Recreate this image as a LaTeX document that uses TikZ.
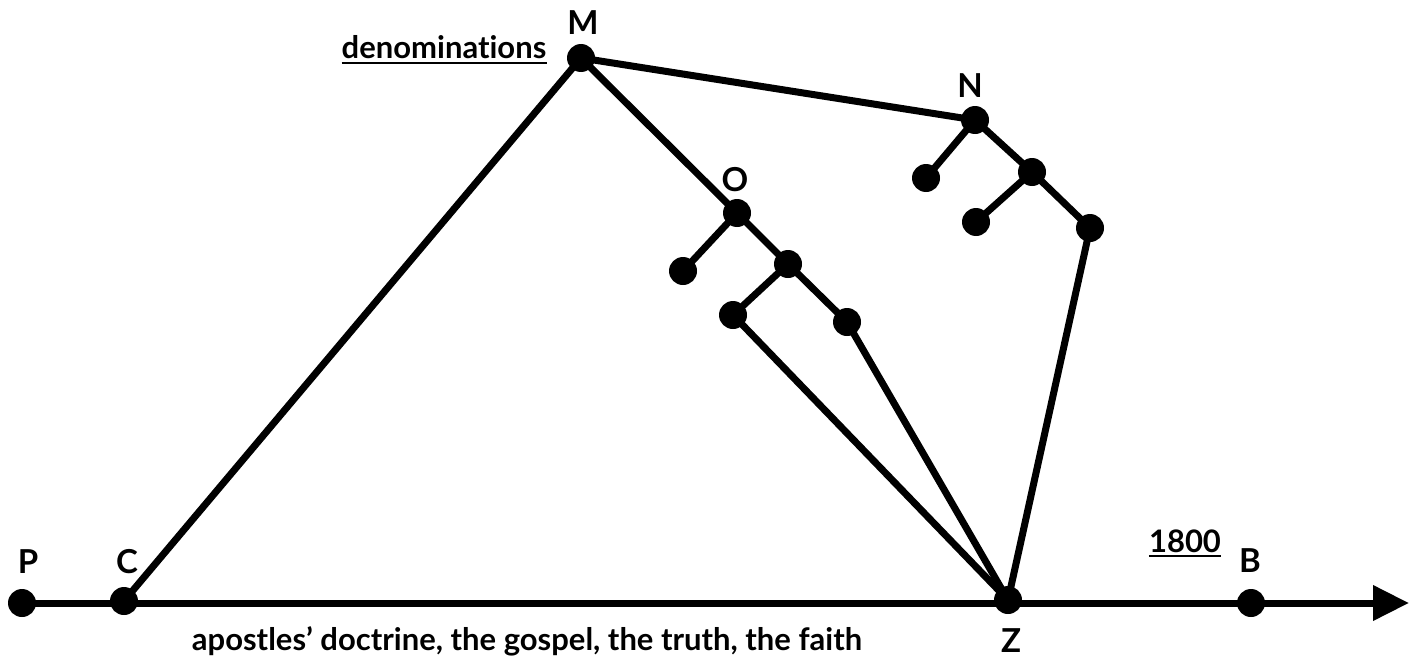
\documentclass[tikz,border=0pt]{standalone}
\usepackage{fontspec}
\setmainfont{Lato}[Ligatures={NoCommon}]
\usetikzlibrary{arrows.meta,calc}
\tikzset{
  dot/.style={circle,fill=black,minimum size=28pt,inner sep=0pt},
  edge/.style={line width=7pt},
  lbl/.style={font=\fontsize{33}{35}\selectfont\bfseries,inner sep=0pt},
  txt/.style={font=\fontsize{31}{33}\selectfont\bfseries,inner sep=0pt},
  uline/.style={line width=2.8pt}
}
\begin{document}
\begin{tikzpicture}[x=1pt,y=-1pt]
\useasboundingbox (0,0) rectangle (1415,669);
% dots
\node[dot] (P) at (22,603) {};
\node[dot] (C) at (124,601) {};
\node[dot] (Z) at (1008,600) {};
\node[dot] (B) at (1251,603) {};
\node[dot] (M) at (581,58) {};
\node[dot] (N) at (975,120) {};
\node[dot] (O) at (737,213) {};
\node[dot] (O1) at (683,271) {};
\node[dot] (O2) at (788,264) {};
\node[dot] (O3) at (733,315) {};
\node[dot] (O4) at (847,322) {};
\node[dot] (N1) at (926,178) {};
\node[dot] (N2) at (1032,172) {};
\node[dot] (N3) at (976,222) {};
\node[dot] (N4) at (1090,228) {};
\coordinate (E) at (1409,603);
% connectors
\draw[edge,-{Triangle[length=36pt,width=34pt]}] (P.center) -- (E);
\draw[edge] (C.center) -- (M.center) -- (N.center);
\draw[edge] (M.center) -- (O.center) -- (O2.center) -- (O4.center) -- (Z.center);
\draw[edge] (O.center) -- (O1.center);
\draw[edge] (O2.center) -- (O3.center) -- (Z.center);
\draw[edge] (N.center) -- (N1.center);
\draw[edge] (N.center) -- (N2.center) -- (N4.center) -- (Z.center);
\draw[edge] (N2.center) -- (N3.center);
% labels
\node[lbl] (lP) at (28,562) {P};
\node[lbl] (lC) at (127,562) {C};
\node[lbl] (lZ) at (1011,641) {Z};
\node[lbl] (lB) at (1250,561) {B};
\node[lbl] (lM) at (583,23) {M};
\node[lbl] (lN) at (970,86) {N};
\node[lbl] (lO) at (735,180) {O};
\node[txt,anchor=base] (den) at (444,59) {denominations};
\draw[uline] ($(den.base west)+(0,4)$) -- ($(den.base east)+(0,4)$);
\node[txt,anchor=base] (yr) at (1185,552) {1800};
\draw[uline] ($(yr.base west)+(0,4)$) -- ($(yr.base east)+(0,4)$);
\node[txt] (bot) at (527,641) {apostles’ doctrine, the gospel, the truth, the faith};
\end{tikzpicture}
\end{document}
